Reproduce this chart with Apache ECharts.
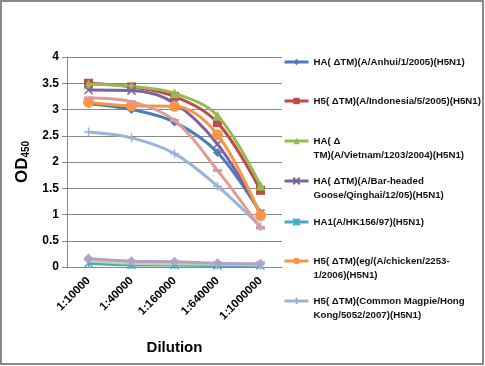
<!DOCTYPE html>
<html><head><meta charset="utf-8">
<script src="https://cdn.jsdelivr.net/npm/echarts@6/dist/echarts.min.js"></script>
<style>html,body{margin:0;padding:0;background:#fff}#c{width:485px;height:366px}</style>
</head><body><div id="c"></div>
<script>
var categories = ['1:10000','1:40000','1:160000','1:640000','1:1000000'];
var yTicks = [0,0.5,1,1.5,2,2.5,3,3.5,4];
var names = [
 'HA( ΔTM)(A/Anhui/1/2005)(H5N1)',
 'H5( ΔTM)(A/Indonesia/5/2005)(H5N1)',
 'HA( Δ TM)(A/Vietnam/1203/2004)(H5N1)',
 'HA( ΔTM)(A/Bar-headed Goose/Qinghai/12/05)(H5N1)',
 'HA1(A/HK156/97)(H5N1)',
 'H5( ΔTM)(eg/(A/chicken/2253-1/2006)(H5N1)',
 'H5( ΔTM)(Common Magpie/Hong Kong/5052/2007)(H5N1)',
 'extra pink', 'extra green', 'extra lavender'
];
var legendLabels = [
 'HA( ΔTM)(A/Anhui/1/2005)(H5N1)',
 'H5( ΔTM)(A/Indonesia/5/2005)(H5N1)',
 '\nHA( Δ\nTM)(A/Vietnam/1203/2004)(H5N1)',
 '\nHA( ΔTM)(A/Bar-headed\nGoose/Qinghai/12/05)(H5N1)',
 'HA1(A/HK156/97)(H5N1)',
 '\nH5( ΔTM)(eg/(A/chicken/2253-\n1/2006)(H5N1)',
 '\nH5( ΔTM)(Common Magpie/Hong\nKong/5052/2007)(H5N1)'
];
var anhui     = [3.11, 3.00, 2.76, 2.18, 1.03];
var indonesia = [3.50, 3.43, 3.25, 2.75, 1.46];
var vietnam   = [3.48, 3.44, 3.31, 2.88, 1.55];
var qinghai   = [3.37, 3.36, 3.12, 2.34, 1.02];
var hk156     = [0.07, 0.04, 0.04, 0.03, 0.03];
var chicken   = [3.14, 3.07, 3.06, 2.52, 0.98];
var magpie    = [2.57, 2.46, 2.16, 1.54, 0.77];
var pink      = [3.22, 3.15, 2.79, 1.84, 0.74];
var lgreen    = [0.12, 0.07, 0.06, 0.05, 0.04];
var lavender  = [0.16, 0.11, 0.10, 0.07, 0.06];
var values = [anhui, indonesia, vietnam, qinghai, hk156, chicken, magpie, pink, lgreen, lavender];
var colors = ['#4A7EBB','#BE4B48','#98B954','#7D60A0','#46AAC5','#F79646','#9BB3D9','#E09A98','#C3D69B','#B3A2C7'];
var symbols = ['diamond','rect','triangle',
 'path://M0,0L10,10M10,0L0,10',
 'path://M0,0L10,10M10,0L0,10M5,0L5,10',
 'circle',
 'path://M5,0L5,10M0,5L10,5',
 'path://M0,0L10,0L10,2L0,2Z',
 'none','diamond'];
var symSizes = [9,9,10,8,8,11,9,[9,3],0,10];
var legendTops = [55, 94, 120, 160, 215, 240, 280];

var chart = echarts.init(document.getElementById('c'));
var series = values.map(function(v,i){
  return {
    name: names[i], type:'line', data: v, smooth: 0.35,
    symbol: symbols[i], symbolSize: symSizes[i], showSymbol: symbols[i] !== 'none',
    lineStyle:{color:colors[i], width:3},
    itemStyle:{color:colors[i], borderColor:colors[i], borderWidth:(i===3||i===4||i===6)?1.5:0},
    z: 2 + i, animation:false
  };
});
var legends = legendLabels.map(function(l,i){
  return {
    data:[names[i]], left: 283, top: legendTops[i], orient:'vertical', padding:0,
    itemWidth: 24, itemHeight: 8, itemGap: 0, selectedMode:false,
    lineStyle:{width:3},
    formatter: function(){ return l; },
    textStyle:{fontFamily:'Liberation Sans', fontSize:9.7, fontWeight:'bold', color:'#111', lineHeight:14}
  };
});
chart.setOption({
  animation:false,
  color: colors,
  legend: legends,
  grid:{left:67, right:203, top:57, bottom:99},
  graphic:[{type:'rect', shape:{x:1,y:1,width:482,height:363}, style:{fill:'none', stroke:'#888', lineWidth:2}, silent:true}],
  xAxis:{
    type:'category', data: categories, boundaryGap:true,
    axisLine:{lineStyle:{color:'#888', width:1}},
    axisTick:{show:false},
    axisLabel:{rotate:45, interval:0, margin:12, color:'#000', fontFamily:'Liberation Sans', fontWeight:'bold', fontSize:11.5},
    name:'Dilution', nameLocation:'middle', nameGap:73,
    nameTextStyle:{fontFamily:'Liberation Sans', fontWeight:'bold', fontSize:15, color:'#000'}
  },
  yAxis:{
    type:'value', min:0, max:4, interval:0.5,
    axisLine:{show:true, lineStyle:{color:'#888'}},
    axisTick:{show:true, length:5, lineStyle:{color:'#888'}},
    splitLine:{lineStyle:{color:'#888', width:1}},
    axisLabel:{color:'#000', fontFamily:'Liberation Sans', fontWeight:'bold', fontSize:12, margin:8,
      formatter:function(v){ return yTicks.indexOf(v)>=0 ? String(v) : ''; }},
    name:'{m|OD}{s|450}', nameLocation:'middle', nameGap:36, nameRotate:90,
    nameTextStyle:{rich:{
      m:{fontFamily:'Liberation Sans', fontWeight:'bold', fontSize:17, color:'#000'},
      s:{fontFamily:'Liberation Sans', fontWeight:'bold', fontSize:10, color:'#000', padding:[8,0,0,0]}
    }}
  },
  series: series
});
</script></body></html>
